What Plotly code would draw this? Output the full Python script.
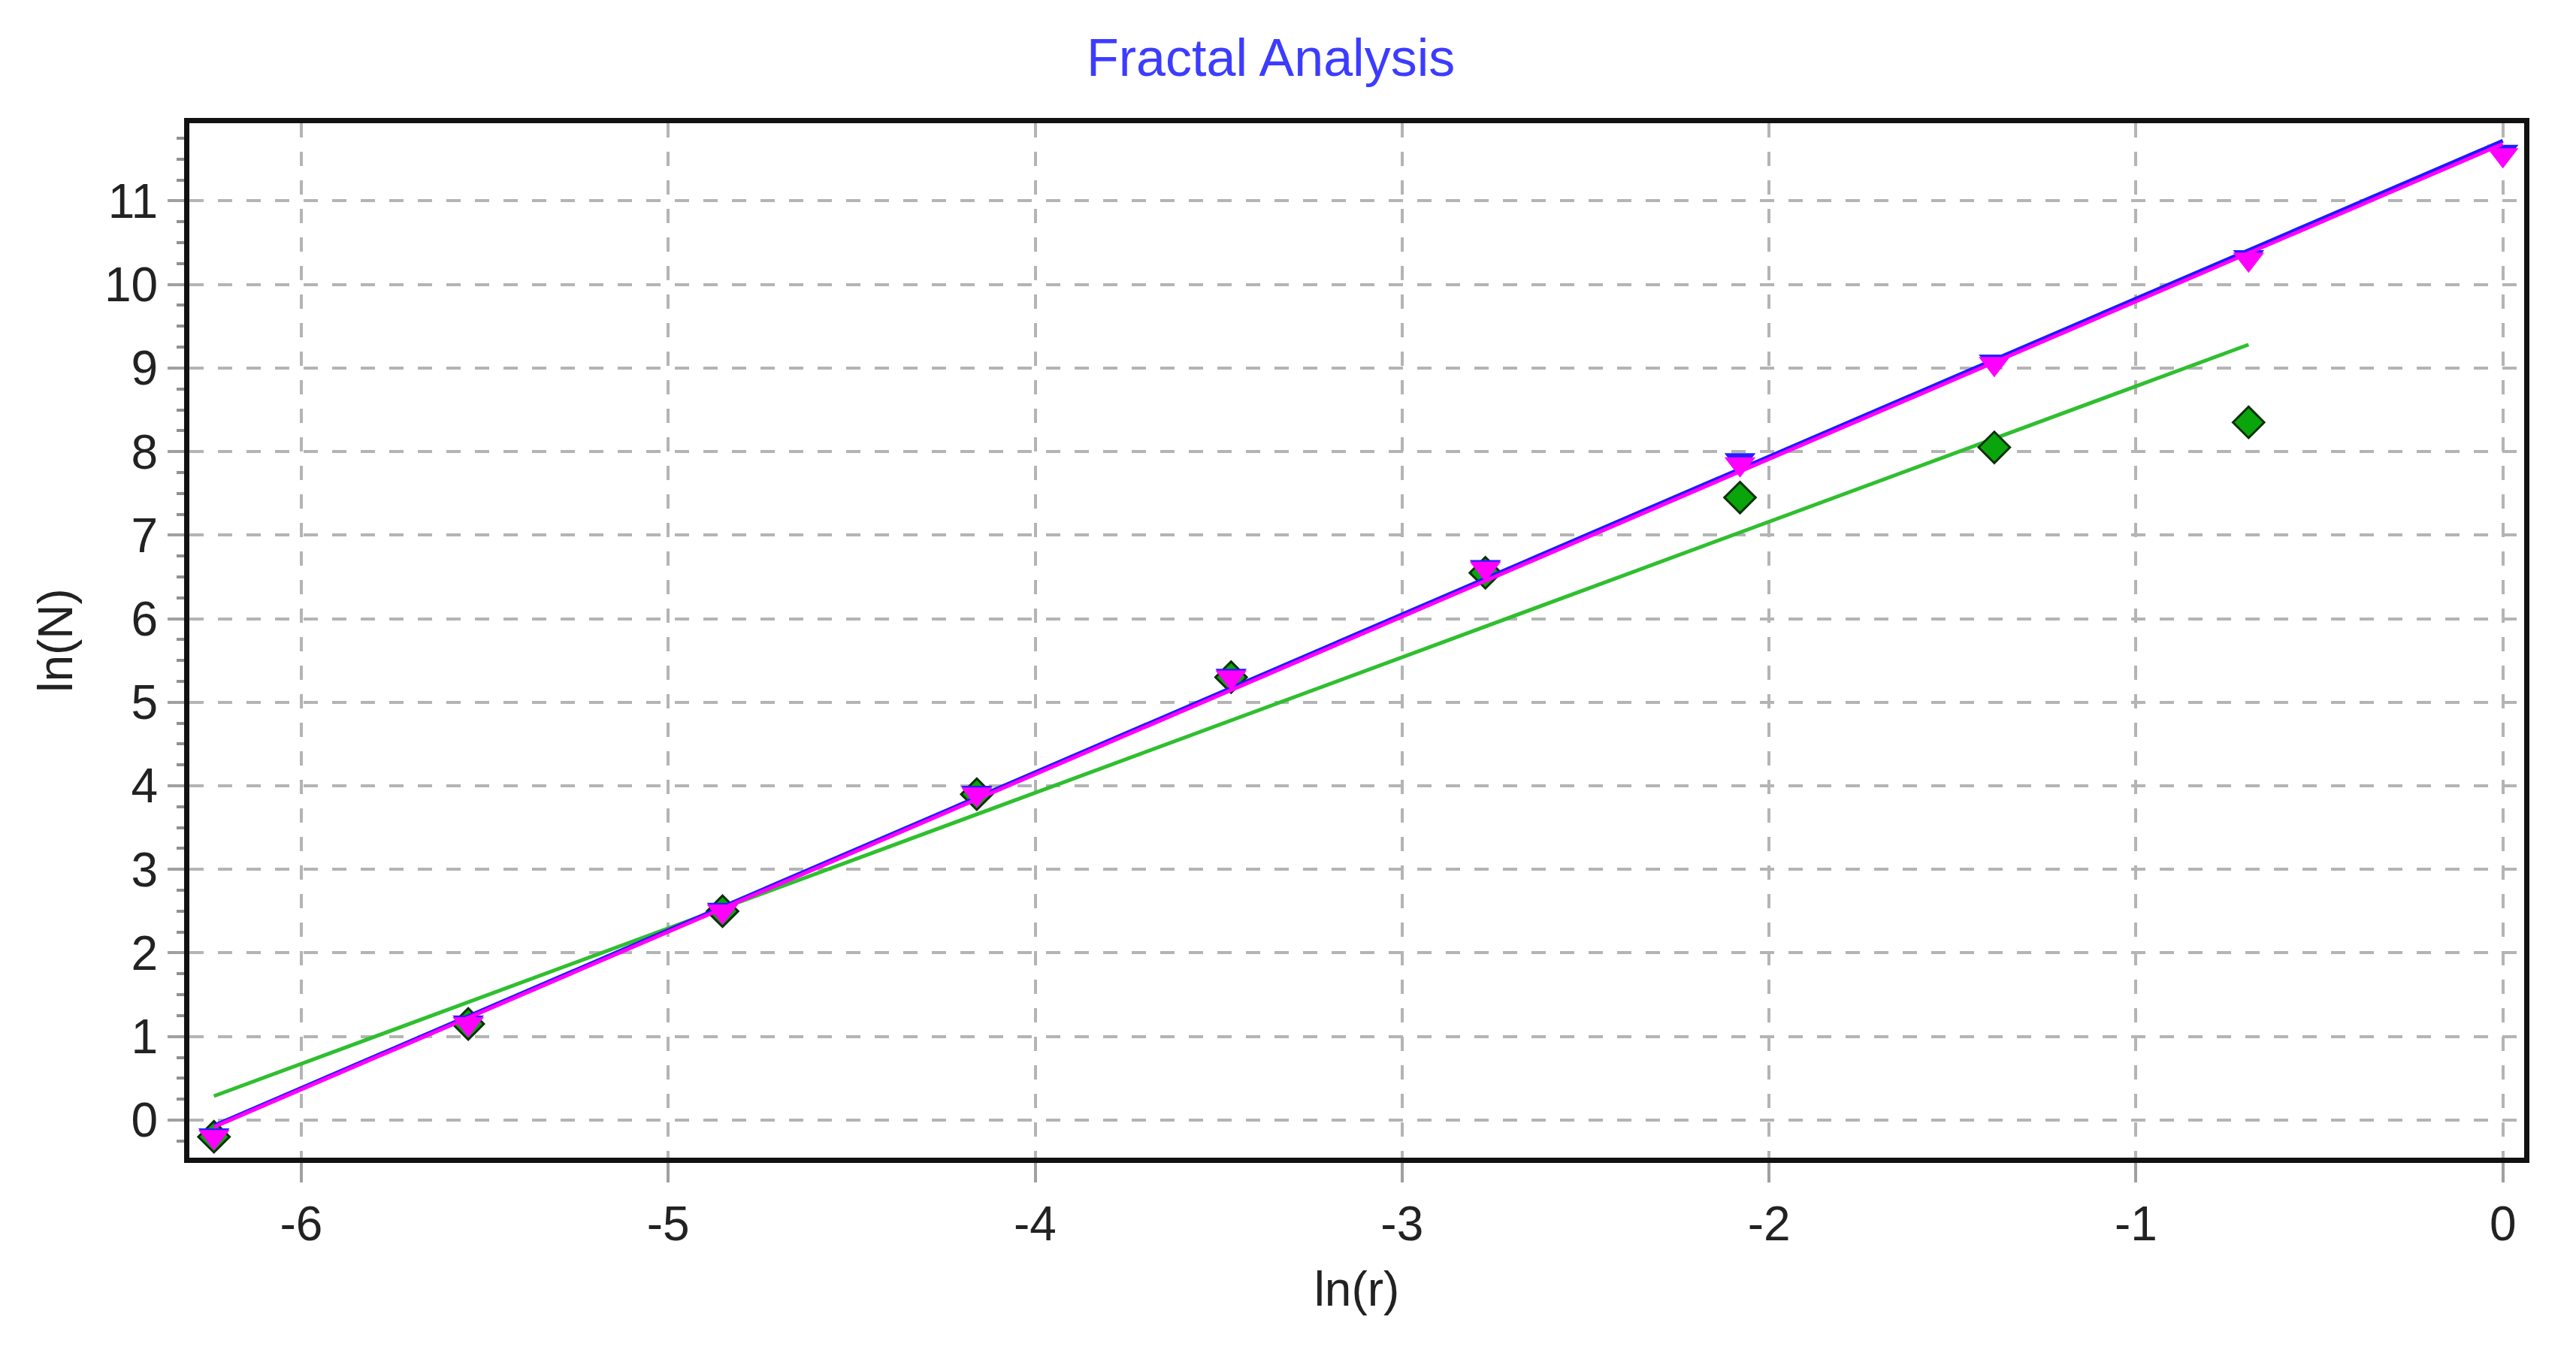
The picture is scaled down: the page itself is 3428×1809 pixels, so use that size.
import numpy as np
import plotly.graph_objects as go

# ---- data ----
ln_r = [-6.238, -5.545, -4.852, -4.159, -3.466, -2.773, -2.079, -1.386, -0.693, 0.0]
ln_n_magenta = [-0.2, 1.15, 2.5, 3.9, 5.3, 6.6, 7.85, 9.05, 10.3, 11.55]
ln_n_blue = [-0.18, 1.17, 2.52, 3.92, 5.32, 6.62, 7.9, 9.08, 10.33, 11.59]
ln_r_green = ln_r[:9]
ln_n_green = [-0.2, 1.15, 2.5, 3.9, 5.3, 6.55, 7.45, 8.05, 8.35]

x_ticks = [-6, -5, -4, -3, -2, -1, 0]
y_ticks = list(range(0, 12))

FONT = "Liberation Sans"
FS = 64


def fit_line(xs, ys):
    k, b = np.polyfit(xs, ys, 1)
    xe = np.array([min(xs), max(xs)])
    return xe, k * xe + b


fig = go.Figure()

# green series
gx, gy = fit_line(ln_r_green, ln_n_green)
fig.add_trace(go.Scatter(x=gx, y=gy, mode="lines",
                         line=dict(color="#2fbf2f", width=5)))
fig.add_trace(go.Scatter(x=ln_r_green, y=ln_n_green, mode="markers",
                         marker=dict(symbol="diamond", size=32, color="#0aa50a",
                                     line=dict(color="#0a300a", width=3))))

# blue series
bx, by = fit_line(ln_r, ln_n_blue)
fig.add_trace(go.Scatter(x=bx, y=by, mode="lines",
                         line=dict(color="#1a1aff", width=5)))
fig.add_trace(go.Scatter(x=ln_r, y=ln_n_blue, mode="markers",
                         marker=dict(symbol="triangle-down", size=36, color="#2020ff",
                                     line=dict(width=0))))

# magenta series
mx, my = fit_line(ln_r, ln_n_magenta)
fig.add_trace(go.Scatter(x=mx, y=my, mode="lines",
                         line=dict(color="#ff00ff", width=5)))
fig.add_trace(go.Scatter(x=ln_r, y=ln_n_magenta, mode="markers",
                         marker=dict(symbol="triangle-down", size=36, color="#ff00ff",
                                     line=dict(width=0))))

grid = dict(showgrid=True, gridcolor="#b4b4b4", gridwidth=4, griddash="19px,19px")

fig.update_layout(
    width=3428, height=1809,
    margin=dict(l=244, r=77, t=156, b=276),
    paper_bgcolor="white", plot_bgcolor="white",
    showlegend=False,
    font=dict(family=FONT, size=FS, color="#222222"),
    title=dict(text="Fractal Analysis", x=0.491, xanchor="center", y=0.962, yanchor="middle",
               font=dict(family=FONT, size=70, color="#3c3cff")),
    xaxis=dict(range=[-6.305, 0.058], tickvals=x_ticks, ticktext=[str(v) for v in x_ticks],
               ticks="outside", ticklen=26, tickwidth=4, tickcolor="#a0a0a0",
               showline=True, linecolor="#111111", linewidth=7, mirror=True,
               zeroline=False, title=dict(text="ln(r)", standoff=32,
                                          font=dict(family=FONT, size=FS, color="#222222")),
               **grid),
    yaxis=dict(range=[-0.45, 11.93], tickvals=y_ticks, ticktext=[str(v) for v in y_ticks],
               ticks="outside", ticklen=22, tickwidth=4, tickcolor="#a0a0a0",
               minor=dict(dtick=0.25, tick0=0, ticks="outside", ticklen=10, tickwidth=4,
                          tickcolor="#909090", showgrid=False),
               showline=True, linecolor="#111111", linewidth=7, mirror=True,
               zeroline=False, title=dict(text="ln(N)", standoff=24,
                                          font=dict(family=FONT, size=FS, color="#222222")),
               **grid),
)

fig.write_html("out.html")
